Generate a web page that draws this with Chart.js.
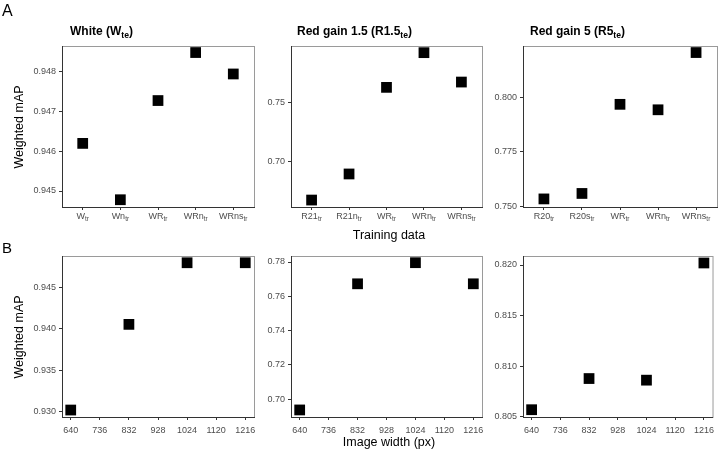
<!DOCTYPE html>
<html>
<head>
<meta charset="utf-8">
<script src="https://cdn.jsdelivr.net/npm/chart.js@4.4.1/dist/chart.umd.min.js"></script>
<style>
body { margin: 0; background: #fff; }
#wrap { position: relative; width: 719px; height: 451px; }
#wrap canvas { position: absolute; left: 0; top: 0; }
</style>
</head>
<body>
<div id="wrap">
  <canvas id="a1" width="719" height="451"></canvas>
  <canvas id="a2" width="719" height="451"></canvas>
  <canvas id="a3" width="719" height="451"></canvas>
  <canvas id="b1" width="719" height="451"></canvas>
  <canvas id="b2" width="719" height="451"></canvas>
  <canvas id="b3" width="719" height="451"></canvas>
</div>
<script>
// training sets (subscript "tr" added when drawn)
var trainWhite = ['W', 'Wn', 'WR', 'WRn', 'WRns'];
var trainRed15 = ['R21', 'R21n', 'WR', 'WRn', 'WRns'];
var trainRed5 = ['R20', 'R20s', 'WR', 'WRn', 'WRns'];

// weighted mAP per training set
var mapWhite = [0.9462, 0.94478, 0.94728, 0.94849, 0.94795];
var mapRed15 = [0.6675, 0.6896, 0.7630, 0.7924, 0.7675];
var mapRed5 = [0.7535, 0.7560, 0.7968, 0.7943, 0.8205];

// image width experiment
var imgWidths = [640, 832, 1024, 1216];
var widthTicks = [640, 736, 832, 928, 1024, 1120, 1216];
var mapWidthWhite = [0.9302, 0.94053, 0.94796, 0.94796];
var mapWidthRed15 = [0.6938, 0.7673, 0.7796, 0.7673];
var mapWidthRed5 = [0.8057, 0.80878, 0.80862, 0.8202];

// y tick labels
var yTicksA1 = [0.945, 0.946, 0.947, 0.948];
var yTicksA2 = [0.70, 0.75];
var yTicksA3 = [0.750, 0.775, 0.800];
var yTicksB1 = [0.930, 0.935, 0.940, 0.945];
var yTicksB2 = [0.70, 0.72, 0.74, 0.76, 0.78];
var yTicksB3 = [0.805, 0.810, 0.815, 0.820];

Chart.defaults.font.family = "'Liberation Sans', Arial, sans-serif";
Chart.defaults.color = '#4d4d4d';

var CW = 719, CH = 451;
var AXW = 50, AXH = 30;
var FONT = "'Liberation Sans', Arial, sans-serif";

// draw text made of [string, isSubscript] parts
function subText(ctx, parts, x, y, size, bold, align) {
    var subSize = size * 0.72;
    var fontOf = function (s) { return (bold ? 'bold ' : '') + s + 'px ' + FONT; };
    var total = 0;
    parts.forEach(function (p) {
        ctx.font = fontOf(p[1] ? subSize : size);
        total += ctx.measureText(p[0]).width;
    });
    var cx = align === 'center' ? x - total / 2 : x;
    ctx.textAlign = 'left';
    ctx.textBaseline = 'alphabetic';
    parts.forEach(function (p) {
        ctx.font = fontOf(p[1] ? subSize : size);
        ctx.fillText(p[0], cx, p[1] ? y + size * 0.25 : y);
        cx += ctx.measureText(p[0]).width;
    });
}

var panelText = {
    id: 'panelText',
    beforeDraw: function (chart) {
        var a = chart.chartArea, ctx = chart.ctx;
        ctx.save();
        ctx.strokeStyle = '#9a9a9a';
        ctx.lineWidth = 1;
        ctx.strokeRect(a.left + 0.5, a.top + 0.5, a.right - a.left, a.bottom - a.top);
        ctx.restore();
    },
    afterDraw: function (chart, args, o) {
        var ctx = chart.ctx;
        ctx.save();
        ctx.fillStyle = '#000';
        if (o.title) {
            subText(ctx, o.title, o.titleX, chart.chartArea.top - 11, 12, true, 'left');
        }
        if (o.cats) {
            var xs = chart.scales.x;
            ctx.fillStyle = '#4d4d4d';
            o.cats.forEach(function (c, i) {
                subText(ctx, [[c, 0], ['tr', 1]], xs.getPixelForValue(i + 1), xs.top + 12, 9, false, 'center');
            });
        }
        (o.texts || []).forEach(function (t) {
            ctx.save();
            ctx.fillStyle = '#000';
            ctx.font = t.size + 'px ' + FONT;
            ctx.translate(t.x, t.y);
            if (t.rot) {
                ctx.rotate(-Math.PI / 2);
                ctx.textBaseline = 'middle';
            } else {
                ctx.textBaseline = 'alphabetic';
            }
            ctx.textAlign = t.align || 'center';
            ctx.fillText(t.s, 0, 0);
            ctx.restore();
        });
        ctx.restore();
    }
};

function axis(o, dir) {
    return {
        type: 'linear',
        min: o.min,
        max: o.max,
        afterBuildTicks: function (s) { s.ticks = o.ticks.map(function (v) { return {value: v}; }); },
        afterFit: function (s) { if (dir === 'x') s.height = AXH; else s.width = AXW; },
        grid: {display: true, drawOnChartArea: false, drawTicks: true, tickLength: 3, color: '#333'},
        border: {display: true, color: '#333', width: 1},
        ticks: {
            font: {size: 9},
            color: '#4d4d4d',
            padding: dir === 'x' ? 5 : 3,
            maxRotation: 0,
            autoSkip: false,
            callback: o.fmt
        }
    };
}

function panel(id, box, pts, xo, yo, plug) {
    return new Chart(document.getElementById(id), {
        type: 'scatter',
        data: {
            datasets: [{
                data: pts,
                pointStyle: 'rect',
                pointRadius: 7.6,
                pointHoverRadius: 7.6,
                backgroundColor: '#000',
                borderWidth: 0,
                clip: false
            }]
        },
        options: {
            responsive: false,
            animation: false,
            devicePixelRatio: 1,
            events: [],
            layout: {
                autoPadding: false,
                padding: {left: box[0] - AXW, top: box[1], right: CW - box[2], bottom: CH - box[3] - AXH}
            },
            plugins: {legend: {display: false}, tooltip: {enabled: false}, panelText: plug},
            scales: {x: axis(xo, 'x'), y: axis(yo, 'y')}
        },
        plugins: [panelText]
    });
}

function catPoints(vals) {
    return vals.map(function (v, i) { return {x: i + 1, y: v}; });
}
function widthPoints(vals) {
    return imgWidths.map(function (w, i) { return {x: w, y: vals[i]}; });
}

var fmt3 = function (v) { return v.toFixed(3); };
var fmt2 = function (v) { return v.toFixed(2); };
var noLabel = function () { return ''; };
var catX = {min: 0.45, max: 5.55, ticks: [1, 2, 3, 4, 5], fmt: noLabel};
var widthX = {min: 611.2, max: 1244.8, ticks: widthTicks, fmt: function (v) { return String(v); }};

// row A: training data
panel('a1', [62, 46, 254, 207], catPoints(mapWhite), catX,
    {min: 0.944597, max: 0.948655, ticks: yTicksA1, fmt: fmt3},
    {title: [['White (W', 0], ['te', 1], [')', 0]], titleX: 70, cats: trainWhite,
     texts: [{s: 'A', x: 2, y: 15.5, size: 16, align: 'left'},
             {s: 'Weighted mAP', x: 20, y: 127, size: 12.5, rot: true}]});
panel('a2', [291, 46, 482, 207], catPoints(mapRed15), catX,
    {min: 0.66161, max: 0.79805, ticks: yTicksA2, fmt: fmt2},
    {title: [['Red gain 1.5 (R1.5', 0], ['te', 1], [')', 0]], titleX: 297, cats: trainRed15,
     texts: [{s: 'Training data', x: 389, y: 239, size: 12.5}]});
panel('a3', [523, 46, 717, 207], catPoints(mapRed5), catX,
    {min: 0.7498, max: 0.8235, ticks: yTicksA3, fmt: fmt3},
    {title: [['Red gain 5 (R5', 0], ['te', 1], [')', 0]], titleX: 530, cats: trainRed5});

// row B: image width
panel('b1', [62, 256, 254, 417], widthPoints(mapWidthWhite), widthX,
    {min: 0.92936, max: 0.948774, ticks: yTicksB1, fmt: fmt3},
    {texts: [{s: 'B', x: 2, y: 253, size: 15, align: 'left'},
             {s: 'Weighted mAP', x: 20, y: 337, size: 12.5, rot: true}]});
panel('b2', [291, 256, 482, 417], widthPoints(mapWidthRed15), widthX,
    {min: 0.68969, max: 0.7835, ticks: yTicksB2, fmt: fmt2},
    {texts: [{s: 'Image width (px)', x: 389, y: 446, size: 12.5}]});
panel('b3', [523, 256, 717, 417], widthPoints(mapWidthRed5), widthX,
    {min: 0.80498, max: 0.82089, ticks: yTicksB3, fmt: fmt3},
    {});
</script>
</body>
</html>
